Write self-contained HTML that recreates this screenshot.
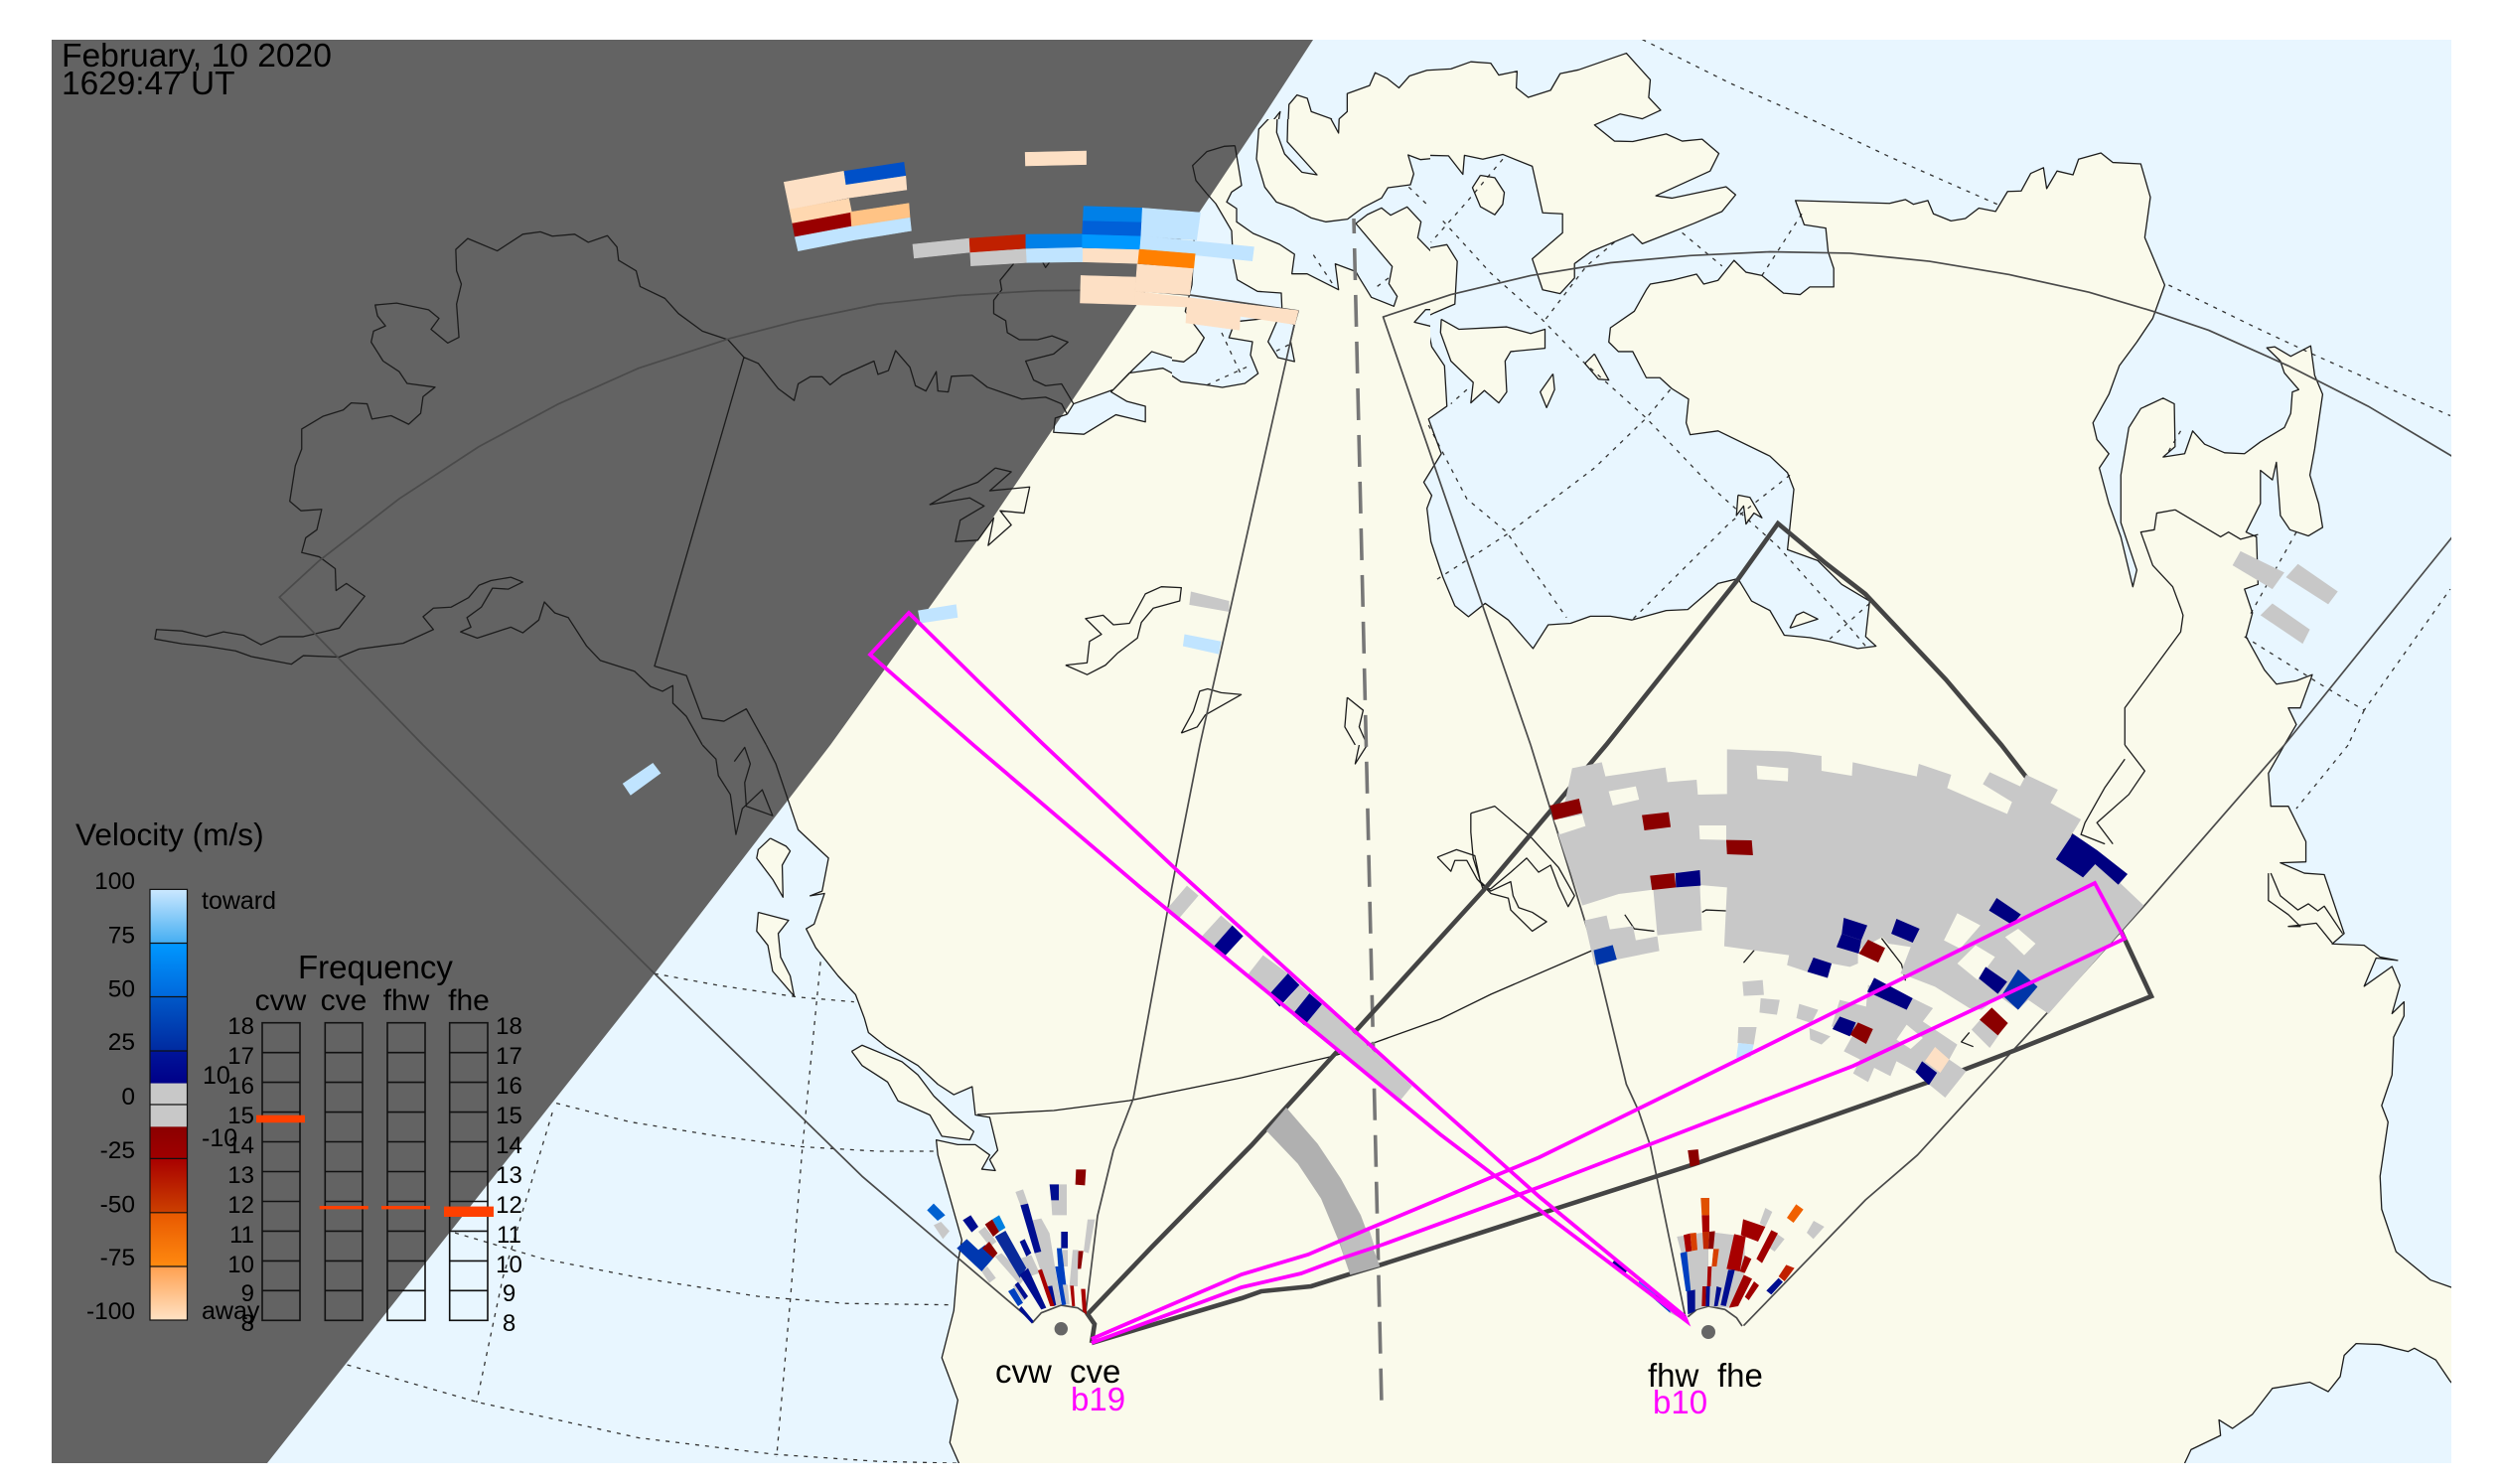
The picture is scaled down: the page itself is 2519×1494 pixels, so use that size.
<!DOCTYPE html>
<html><head><meta charset="utf-8"><title>Velocity map</title>
<style>
html,body{margin:0;padding:0;background:#fff}
svg{display:block}
path{vector-effect:non-scaling-stroke}
text{font-family:"Liberation Sans",sans-serif;fill:#000}
.d path{fill:none;stroke:#333;stroke-width:1.3;stroke-dasharray:4 6}
.f path{fill:none;stroke:#4a4a4a;stroke-width:1.7;stroke-linejoin:round}
.s use,.s path{fill:none;stroke:#1c1c1c;stroke-width:1.3;stroke-linejoin:round}
</style></head><body>
<svg width="2519" height="1494" viewBox="0 0 2519 1494" xmlns="http://www.w3.org/2000/svg">
<defs>
<clipPath id="c1"><path clip-rule="evenodd" d="M0 0H1260V750H0Z M1180 120H1440V420H1180Z"/></clipPath>
<clipPath id="c2"><path clip-rule="evenodd" d="M1260 0H2519V750H1260Z M1260 120H1440V420H1260Z"/></clipPath>
<clipPath id="c3"><rect x="0" y="750" width="1260" height="744"/></clipPath>
<clipPath id="c4"><rect x="1260" y="750" width="1259" height="744"/></clipPath>
<clipPath id="cz"><rect x="1180" y="120" width="260" height="300"/></clipPath>

<!-- zone 1 -->
<path id="a1" d="M1337,872 1345,850 1395,820 1420,777 1443,740 1483,761 1510,780 1490,805 1457,775 1415,785 1392,825 1412,845 1435,855 1435,888 1398,873 1358,914 1320,910 1322,880 1337,872"/>
<path id="a2" d="M932,752 912,715 880,697 850,660 833,628 802,603 797,570 775,548 773,520 761,496 737,510 720,493 692,497 677,488 655,493 623,528 586,502 571,525 572,570 578,598 572,640 575,710 561,722 540,693 550,670 537,652 497,638 470,642 473,665 483,686 468,697 465,720 480,760 500,782 510,807 545,815 530,835 527,870 512,893 490,875 466,882 460,850 440,848 430,863 405,876 378,903 378,945 370,980 363,1055 377,1075 403,1072 397,1115 383,1132 378,1163 400,1172 420,1197 421,1243 434,1228 457,1255 425,1322 380,1340 350,1340 327,1357 305,1337 280,1330 258,1340 228,1328 196,1325 194,1345 228,1355 258,1360 295,1370 315,1382 365,1398 380,1380 425,1383 450,1366 505,1354 543,1325 530,1298 543,1280 565,1278 587,1258 600,1232 615,1222 640,1215 655,1225 637,1240 617,1238 603,1278 585,1300 590,1320 577,1330 598,1343 640,1320 655,1332 675,1305 682,1267 695,1290 712,1300 735,1360 752,1390 795,1413 815,1445 830,1455 843,1443 843,1480 860,1508 880,1568
M932,752 820,1402 860,1422 880,1512 907,1518 935,1492 960,1568
M932,752 950,765 975,818 995,843 1000,808 1015,793 1030,793 1040,810 1055,790 1095,760 1100,788 1113,780 1122,738 1140,773 1147,812 1160,823 1173,782 1175,823 1188,825 1192,792 1218,790 1237,815 1280,840 1310,836 1330,850 1337,872
M1270,555 1253,590 1255,610 1245,632 1245,660 1260,675 1262,700 1277,715 1300,715 1318,707 1338,720 1320,745 1285,760 1295,800 1310,812 1330,808 1345,850
M1305,548 1310,563 1318,545
M1247,985 1267,993 1240,1033 1290,1025 1283,1080 1253,1075 1267,1105 1238,1148 1245,1090 1225,1137 1197,1140 1203,1095 1233,1065 1215,1048 1165,1062 1195,1033 1225,1015 1247,985
M1335,1400 1362,1420 1385,1400 1400,1375 1425,1343 1430,1310 1445,1280 1478,1265 1480,1237 1455,1235 1435,1250 1415,1312 1395,1315 1382,1295 1360,1302 1380,1335 1365,1350 1362,1395 1335,1400
M1480,1543 1500,1530 1510,1505 1555,1462 1530,1458 1513,1450 1503,1455 1495,1497 1480,1543"/>

<!-- zone 2 -->
<path id="b1" d="M5,300 36,235 30,290 50,340 65,365 82,367 45,295 47,220 57,200 70,207 75,235 100,250 110,280 110,250 120,235 120,197 148,180 155,153 170,165 185,185 198,160 220,148 250,145 275,130 300,133 310,158 333,150 332,185 347,205 375,190 387,155 410,147 470,112 500,168 498,205 513,232 490,250 462,240 430,263 455,297 478,298 520,282 540,297 565,293 586,323 575,360 507,412 527,417 595,393 607,410 590,445 555,470 525,490 490,513 478,493 425,530 405,555 405,585 387,618 365,610 352,545 390,490 390,450 365,448 352,350 315,325 290,335 267,327 265,367 247,328 198,326 203,390 172,395 155,420 122,460 95,467 65,455 30,425 10,370 5,300"/>
<path id="b2" d="M132,470 160,440 175,452 195,437 210,465 210,505 222,522 245,515 258,550 255,640 230,658 205,678 220,682 226,730 242,770 245,855 222,882 238,955 216,1015 226,1043 220,1070 225,1140 240,1215 255,1275 272,1298 293,1270 322,1305 353,1365 372,1315 400,1312 425,1297 450,1297 477,1305 520,1285 547,1283 585,1228 610,1218 627,1265 650,1285 668,1337 700,1342 725,1350 760,1365 783,1360 770,1340 775,1265 740,1230 710,1180 672,1157 680,1030 672,995 650,960 585,907 550,915 545,890 548,840 527,818 512,795 495,795 478,740 460,740 448,720 450,690 480,655 495,610 500,598 527,590 558,577 567,598 585,590 605,548 620,573 640,580 667,617 688,620 700,604 730,604 730,565 723,530 720,480 693,473 682,422 800,428 820,420 830,430 848,422 855,450 877,465 895,460 912,438 933,445 948,403 965,402 977,365 993,353 997,397 1010,360 1030,368 1037,335 1065,322 1080,342 1115,345 1127,415 1120,500 1145,600 1130,670 1110,720 1088,770 1075,830 1055,890 1060,925 1075,955 1063,985 1075,1060 1090,1130 1105,1235 1110,1200 1090,1100 1090,1000 1100,900 1115,860 1143,838 1157,850 1158,940 1143,962 1170,955 1180,907 1195,935 1220,953 1245,955 1265,930 1295,900 1303,870 1305,825 1313,820 1295,785 1290,760 1273,732 1283,730 1303,750 1328,728 1333,790 1343,830 1333,945 1327,1000 1338,1060 1343,1110 1325,1128 1302,1115 1290,1085 1285,973 1280,1010 1265,990 1265,1060 1247,1120 1260,1130 1262,1230 1245,1240 1255,1290 1247,1340 1270,1410 1285,1440 1310,1433 1330,1420 1328,1430 1315,1490 1300,1490 1310,1525 1295,1568 1295,1600 -10,1600 -10,470"/>
<path id="b3" d="M238,672 260,693 320,688 350,702 368,693 368,733 325,740 318,760 320,825 310,848 292,822 275,848 278,805 250,760 237,700 238,672
M287,369 305,374 317,405 315,430 305,452 287,435 277,395 287,369
M430,745 448,800 435,798 418,765 430,745
M378,787 380,820 370,858 362,825 378,787
M610,1042 625,1047 640,1090 630,1080 620,1103 617,1065 608,1085 610,1042
M675,1322 683,1295 692,1288 710,1303 675,1322"/>
<path id="b4" d="M1158,1073 1135,1080 1132,1115 1115,1120 1130,1190 1155,1235 1165,1280 1168,1295 1165,1330 1130,1410 1095,1490 1095,1568
M1158,1073 1215,1130 1225,1120 1240,1135 1262,1125
M120,1468 117,1530 130,1568 M120,1468 140,1495 135,1530 145,1568"/>

<!-- zone 10 -->
<path id="z1" d="M200,-10 300,-10 262,30 255,120 280,205 315,250 365,268 420,298 465,310 530,302 575,268 633,238 652,207 720,198 730,165 713,108 750,122 795,118 795,397 780,397 742,358 752,310 710,265 660,290 633,268 590,288 555,315 665,445 655,497 680,535 670,565 602,538 565,478 555,460 493,437 503,515 408,467 362,467 370,408 325,378 245,345 195,310 195,270 165,250 180,220 210,200 190,80"/>
<path id="z2" d="M105,225 132,255 180,337 184,420 197,485 258,520 330,525 332,570 316,612 290,672 320,720 370,732 358,670 370,620 300,600 205,610 183,630 172,660 243,672 237,712 260,768 220,798 152,810 105,803 27,793 0,775 -10,775 -10,728 0,728 35,733 72,705 97,660 68,622 40,580 60,500 70,285"/>
<path id="z3" d="M318,-10 316,40 340,105 392,160 438,168 348,68 350,-10 M475,-10 503,42 505,-10"/>
<path id="z4" d="M795,625 780,625 732,613 766,575 795,575"/>
<path id="z5" d="M190,80 157,82 105,98 62,140 72,185 105,225"/>

<!-- zone 3 -->
<path id="e1" d="M960,0 972,40 990,130 1000,180 1038,240 1030,310 1015,320 1033,315 1020,380 1010,390 1022,430 1050,490 1072,530 1083,580 1088,610 1110,640 1150,680 1175,720 1195,742 1218,725 1222,785 1240,790 1250,860 1240,880 1247,903 1230,900 1240,870 1222,848 1200,848 1173,838 1175,870 1185,930 1205,1050 1200,1100 1195,1200 1180,1300 1200,1390 1190,1480 1203,1530 1203,1560 200,1560"/>
<path id="e2" d="M965,198 985,215 990,225 980,255 981,323 968,285 948,240 950,222 965,198
M950,355 988,372 975,400 978,450 990,490 995,533 968,480 962,425 948,395 950,355
M1067,650 1080,637 1130,672 1150,700 1170,745 1195,785 1220,820 1215,838 1180,830 1165,785 1125,755 1112,715 1080,680 1067,650"/>
<path id="e3" d="M880,0 897,30 900,65 915,105 922,190 930,135 955,95 968,150 935,130 933,80 940,40 933,5 920,35"/>

<!-- zone 4 -->
<path id="g1" d="M1295,-10 1295,0 1275,60 1278,130 1300,130 1322,205 1322,248 1290,250 1320,272 1345,275 1370,400 1355,422 1395,425 1415,450 1437,457 1410,452 1395,512 1430,470 1440,510 1430,570 1445,545 1445,575 1432,620 1430,700 1417,765 1425,800 1415,915 1417,985 1435,1075 1478,1135 1503,1150 1530,1165 1530,-10"/>
<path id="g2" d="M1170,1524 1178,1495 1215,1465 1213,1432 1230,1450 1255,1420 1280,1365 1327,1352 1350,1372 1365,1340 1370,1295 1385,1270 1415,1272 1450,1287 1458,1280 1485,1305 1503,1350 1530,1400 1530,1540 1170,1540"/>
<path id="g3" d="M1278,272 1290,320 1312,350 1325,337 1337,352 1345,342 1368,400
M1275,272 1275,330 1300,360 1315,385 1300,385 1335,378 1355,420
M275,145 305,130 350,195 385,260 405,320 397,343 385,300 375,255 360,270 345,240 325,270 300,305 290,305 278,240 275,185 275,145
M233,238 257,222 280,235 287,290 300,310 325,290 328,320 335,345 352,355 370,375 352,395 325,350 322,325 300,315 283,285 270,245 255,245 250,268 233,238
M1095,0 1120,55 1100,105 1060,165 1080,210 M1095,30 1070,90 1045,165 1040,190 1070,210
M145,0 130,40 135,0
M468,360 480,390 505,395 M565,355 570,350 595,352 M617,462 632,432
M790,410 815,465 820,500 M905,640 890,630 900,610"/>

<linearGradient id="v1" x1="0" y1="0" x2="0" y2="1"><stop offset="0" stop-color="#cbe8ff"/><stop offset="1" stop-color="#45aef2"/></linearGradient>
<linearGradient id="v2" x1="0" y1="0" x2="0" y2="1"><stop offset="0" stop-color="#0098ff"/><stop offset="1" stop-color="#0068dc"/></linearGradient>
<linearGradient id="v3" x1="0" y1="0" x2="0" y2="1"><stop offset="0" stop-color="#0058c8"/><stop offset="1" stop-color="#002aa0"/></linearGradient>
<linearGradient id="v4" x1="0" y1="0" x2="0" y2="1"><stop offset="0" stop-color="#00159a"/><stop offset="1" stop-color="#000088"/></linearGradient>
<linearGradient id="v5" x1="0" y1="0" x2="0" y2="1"><stop offset="0" stop-color="#8b0000"/><stop offset="1" stop-color="#a00000"/></linearGradient>
<linearGradient id="v6" x1="0" y1="0" x2="0" y2="1"><stop offset="0" stop-color="#a80000"/><stop offset="1" stop-color="#cc4000"/></linearGradient>
<linearGradient id="v7" x1="0" y1="0" x2="0" y2="1"><stop offset="0" stop-color="#e85800"/><stop offset="1" stop-color="#ff8a10"/></linearGradient>
<linearGradient id="v8" x1="0" y1="0" x2="0" y2="1"><stop offset="0" stop-color="#ffa050"/><stop offset="1" stop-color="#ffe2c4"/></linearGradient>
</defs>

<!-- base fills -->
<rect x="52" y="40" width="2416" height="1433" fill="#fafaeb"/>
<g clip-path="url(#c1)"><g transform="scale(.8036,.4783)"><use href="#a1" fill="#e8f6ff"/></g></g>
<g clip-path="url(#c2)"><rect x="1260" y="0" width="1259" height="750" fill="#e8f6ff"/>
<g transform="translate(1260,0) scale(.803,.4783)"><use href="#b2" fill="#fafaeb"/><use href="#b1" fill="#fafaeb"/><use href="#b3" fill="#fafaeb"/></g></g>
<g clip-path="url(#cz)"><g transform="translate(1180,120) scale(.33333)"><use href="#z1" fill="#e8f6ff"/><use href="#z2" fill="#e8f6ff"/><use href="#z3" fill="#e8f6ff"/><use href="#z4" fill="#e8f6ff"/></g></g>
<g clip-path="url(#c3)"><g transform="translate(0,750) scale(.8036,.4745)"><use href="#e1" fill="#e8f6ff"/><use href="#e2" fill="#fafaeb"/></g></g>
<g clip-path="url(#c4)"><g transform="translate(1260,750) scale(.803,.4745)"><use href="#g1" fill="#e8f6ff"/><use href="#g2" fill="#e8f6ff"/></g></g>

<!-- night -->
<polygon points="52,40 1322,40 1270,120 1208,213 987,540 836,750 659,980 269,1473 52,1473" fill="#636363"/>

<!-- dotted graticule -->
<g class="d">
<g transform="translate(1260,0) scale(.803,.4783)">
<path d="M490,83 600,175 700,250 800,330 935,430"/><path d="M1150,600 1260,690 1330,745 1503,875"/>
<path d="M315,335 270,425 225,510"/><path d="M240,465 300,575 360,665 415,760 495,880 580,1030 660,1150 745,1310 770,1360"/>
<path d="M455,510 420,560 365,680"/><path d="M540,490 590,560"/><path d="M690,450 640,580"/>
<path d="M525,820 495,880 430,985 320,1125 232,1220"/><path d="M675,1000 600,1100 477,1305"/>
<path d="M222,895 270,1050 320,1120 395,1300"/><path d="M270,820 250,850"/><path d="M775,1270 725,1345"/>
<path d="M1165,907 1148,955"/><path d="M1310,1120 1250,1300"/><path d="M1245,1340 1340,1440 1395,1495 1503,1240"/><path d="M1395,1495 1375,1568"/>
</g>
<g transform="translate(1180,120) scale(.33333)">
<path d="M427,410 490,505"/><path d="M715,205 775,262"/><path d="M620,505 660,475"/><path d="M150,645 210,775"/><path d="M105,803 240,742"/><path d="M315,700 365,675"/>
</g>
<g transform="translate(0,750) scale(.8036,.4745)">
<path d="M820,485 900,510 1000,535 1070,545"/><path d="M697,760 790,800 900,830 1000,852 1100,862 1170,862"/>
<path d="M570,1035 680,1090 800,1130 950,1170 1060,1185 1195,1188"/><path d="M435,1315 600,1395 800,1470 970,1505 1100,1520 1200,1524"/>
<path d="M1028,460 1005,860 990,1180 973,1510"/><path d="M692,780 660,960 630,1130 597,1395"/>
</g>
<g transform="translate(1260,750) scale(.803,.4745)"><path d="M1375,0 1310,135"/></g>
</g>

<!-- coast strokes -->
<g class="s">
<g clip-path="url(#c1)"><g transform="scale(.8036,.4783)"><use href="#a1"/><use href="#a2"/></g></g>
<g clip-path="url(#c2)"><g transform="translate(1260,0) scale(.803,.4783)"><use href="#b1"/><use href="#b2"/><use href="#b3"/><use href="#b4"/></g></g>
<g clip-path="url(#cz)"><g transform="translate(1180,120) scale(.33333)"><use href="#z1"/><use href="#z2"/><use href="#z3"/><use href="#z4"/><use href="#z5"/></g></g>
<g clip-path="url(#c3)"><g transform="translate(0,750) scale(.8036,.4745)"><use href="#e1"/><use href="#e2"/><use href="#e3"/></g></g>
<g clip-path="url(#c4)"><g transform="translate(1260,750) scale(.803,.4745)"><use href="#g1"/><use href="#g2"/><use href="#g3"/></g></g>
<path d="M984,1122 1061,1118 1137,1108 1250,1085 1343,1063 1383,1050 1450,1026 1501,1001 1605,956"/>
</g>

<!-- center dashed -->
<path d="M1363,220 L1391,1414" fill="none" stroke="#777" stroke-width="3.6" stroke-dasharray="32 15" stroke-dashoffset="17"/>

<!-- FOV outlines -->
<g class="f">
<g transform="scale(.8036,.4783)"><path d="M530,1568 350,1257 400,1180 500,1050 600,940 700,850 800,775 915,712 1000,675 1100,640 1200,622 1300,612 1420,610"/></g>
<path d="M1141,292 1198,297 1307,313 1303,327 1282,420 1208,750 1180,892 1141,1106 1121,1158 1105,1224 1093,1322"/>
<g transform="translate(0,750) scale(.8036,.4745)"><path d="M530,0 820,485 1080,915 1295,1225"/></g>
<g transform="translate(1260,0) scale(.803,.4783)">
<path d="M350,1568 165,667 250,620 350,580 450,553 550,538 650,530 750,533 850,550 950,578 1050,615 1130,655 1200,695 1300,770 1400,855 1520,975"/>
<path d="M1295,1568 1520,1100"/></g>
<g transform="translate(1260,750) scale(.803,.4745)">
<path d="M350,0 430,440 470,720 485,775 500,850 545,1222"/>
<path d="M1295,0 1120,340 970,620 835,870 770,965 617,1232"/></g>
<g transform="translate(1640,1160) scale(.33333)"><path d="M178,497 205,475 240,465 290,475 325,500 342,525"/></g>
<g transform="translate(920,1160) scale(.33333)"><path d="M358,515 385,485 445,462 495,470 525,490"/></g>
</g>

<!-- b19 dark outline -->
<path d="M1099,1352 1102,1333 1095,1323 1160,1255 1260,1153 1344,1061 1493,897 1617,750 1750,583 1790,527 1838,567 1878,598 1959,684 2015,750 2039,781 2100,860 2138,943 2166,1003 2027,1058 1977,1077 1706,1172 1388,1274 1358,1283 1320,1295 1270,1300 1250,1307 1099,1352" fill="none" stroke="#444" stroke-width="4.6"/>

<circle cx="1068.3" cy="1337.7" r="6.7" fill="#666"/>
<circle cx="1720" cy="1341" r="7" fill="#666"/>

<!-- gray arc -->
<g transform="translate(1250,1100) scale(.33333)">
<polygon fill="#b0b0b0" points="135,45 230,155 300,260 360,370 418,525 328,550 290,440 240,320 170,215 75,115"/>
<polygon fill="#bfbfbf" points="297,447 385,412 403,470 312,502"/>
</g>

<!-- lone cells -->
<g transform="scale(.8036,.4783)">
<polygon fill="#c0e4ff" points="1150,1285 1198,1272 1200,1300 1153,1312"/>
<polygon fill="#c8c8c8" points="1492,1245 1540,1265 1540,1288 1490,1273"/>
<polygon fill="#c0e4ff" points="1484,1335 1530,1350 1527,1377 1482,1360"/>
</g>
<g transform="translate(0,750) scale(.8036,.4745)"><polygon fill="#c0e4ff" points="780,82 818,38 828,60 790,107"/></g>
<g transform="translate(1260,0) scale(.803,.4783)" fill="#c8c8c8">
<polygon points="1240,1160 1295,1205 1280,1240 1230,1190"/>
<polygon points="1312,1187 1362,1245 1350,1272 1297,1215"/>
<polygon points="1280,1270 1327,1325 1318,1355 1265,1295"/>
</g>
<g transform="translate(1260,750) scale(.803,.4745)"><polygon fill="#8b0000" points="547,860 560,858 562,890 550,895"/></g>

<!-- top cells -->
<g transform="translate(760,140) scale(.35714,.33333)" stroke-width="1.6">
<g fill="#fde0c5" stroke="#fde0c5">
<polygon points="82,130 250,97 257,137 425,110 428,153 262,178 98,213"/><polygon points="762,40 934,36 934,77 763,81"/>
<polygon points="923,330 1084,333 1080,376 921,371"/><polygon points="1078,378 1235,390 1226,470 1072,460"/>
<polygon points="919,412 1074,417 1070,500 917,495"/><polygon points="1072,460 1532,518 1522,560 1368,535 1366,577 1215,555 1218,507 1070,500"/>
</g>
<polygon fill="#ffd8b0" stroke="#ffd8b0" points="98,213 265,180 273,222 106,255"/>
<polygon fill="#990000" stroke="#990000" points="106,255 273,222 277,263 113,296"/>
<polygon fill="#c0e4ff" stroke="#c0e4ff" points="113,296 277,263 437,237 441,277 280,305 122,338"/>
<polygon fill="#0050c8" stroke="#0050c8" points="252,97 420,70 425,110 257,137"/>
<polygon fill="#ffc385" stroke="#ffc385" points="270,220 434,194 437,236 273,263"/>
<g fill="#c8c8c8" stroke="#c8c8c8"><polygon points="445,318 605,300 607,342 449,360"/><polygon points="607,342 765,332 767,373 609,383"/></g>
<polygon fill="#c02000" stroke="#c02000" points="605,300 764,288 764,330 607,342"/>
<polygon fill="#0080e8" stroke="#0080e8" points="764,288 923,287 923,328 764,330"/>
<g fill="#c0e4ff" stroke="#c0e4ff"><polygon points="765,332 923,328 923,371 767,373"/><polygon points="1092,208 1256,222 1245,305 1084,293"/><polygon points="1087,292 1407,326 1402,368 1084,333"/></g>
<polygon fill="#0098ff" stroke="#0098ff" points="923,287 1087,292 1084,333 923,328"/>
<polygon fill="#0060d8" stroke="#0060d8" points="925,246 1089,249 1087,292 923,287"/>
<polygon fill="#0080e8" stroke="#0080e8" points="927,203 1091,208 1089,250 925,246"/>
<polygon fill="#ff8000" stroke="#ff8000" points="1084,333 1241,347 1237,390 1080,376"/>
</g>

<!-- main fan -->
<g transform="translate(1540,730) scale(.40816,.33333)">
<g fill="#c8c8c8">
<polygon points="105,130 178,112 187,155 335,128 340,172 412,165 415,210 487,208 487,73 640,80 720,93 720,138 795,153 797,112 955,155 960,117 1040,150 1030,190 1120,238 1178,268 1190,232 1118,178 1135,142 1210,185 1225,150 1303,195 1285,235 1360,285 1335,335 1515,545 1280,872 1230,830 1205,860 1160,820 1115,860 1085,855 1000,790 915,750 940,670 885,660 870,640 810,680 810,720 790,730 745,720 735,765 685,745 635,725 640,695 480,668 487,490 420,483 425,620 315,635 305,497 220,510 130,545 100,440 70,330"/>
<polygon points="135,590 190,575 198,617 255,607 262,650 315,638 320,682 215,708 160,725"/>
<polygon points="525,775 575,770 578,815 528,818"/><polygon points="570,825 617,830 610,875 567,868"/>
<polygon points="665,842 712,860 695,900 658,885"/><polygon points="515,912 560,912 553,965 513,960"/>
<polygon points="835,785 945,825 995,855 970,895 1055,965 1035,1010 1077,1045 1025,1125 985,1085 950,1045 905,1015 890,1060 850,1035 835,1078 798,1052 815,1010 775,985 800,930 745,910 765,830 830,850"/>
<polygon points="690,915 742,940 720,965 692,950"/>
<polygon points="1090,920 1115,885 1175,905 1135,975"/>
</g>
<g fill="#fafaeb">
<polygon points="195,200 262,185 270,225 205,243"/><polygon points="560,122 638,130 637,170 562,163"/>
<polygon points="418,303 485,303 485,347 420,345"/><polygon points="60,287 130,270 138,305 75,330"/>
<polygon points="1055,568 1112,605 1062,675 1022,650"/><polygon points="1173,640 1205,615 1248,660 1220,695"/>
<polygon points="1055,720 1100,665 1148,700 1105,770"/><polygon points="905,950 930,905 970,945 940,978"/>
</g>
<g fill="#8b0000">
<polygon points="50,243 122,222 130,265 60,287"/><polygon points="277,272 343,263 348,308 283,318"/>
<polygon points="485,347 548,348 551,393 487,390"/><polygon points="297,455 357,447 361,490 302,498"/>
<polygon points="812,690 835,648 877,673 860,717"/><polygon points="790,935 810,898 847,918 830,963"/>
<polygon points="1110,890 1140,853 1180,900 1155,937"/>
</g>
<g fill="#000080">
<polygon points="360,447 420,438 422,485 361,490"/><polygon points="775,582 833,605 818,650 770,630"/>
<polygon points="770,630 818,650 812,690 757,670"/><polygon points="905,585 962,615 945,657 892,630"/>
<polygon points="700,702 745,720 735,763 685,745"/><polygon points="1152,522 1212,572 1190,603 1133,560"/>
<polygon points="850,763 945,825 930,860 833,805"/><polygon points="1340,328 1400,378 1475,450 1452,482 1395,420 1365,460 1298,405"/>
<polygon points="1125,730 1178,775 1155,812 1108,765"/><polygon points="765,880 805,898 790,940 747,918"/>
<polygon points="968,1015 1005,1050 985,1087 952,1048"/>
</g>
<g fill="#0035a8"><polygon points="1205,738 1253,790 1205,860 1165,815"/><polygon points="158,680 205,664 215,708 165,725"/></g>
<polygon fill="#fde0c5" points="1000,972 1035,1010 1013,1050 975,1015"/>
<polygon fill="#c0e4ff" points="515,960 553,965 545,1003 510,1005"/>
</g>

<!-- b10 beam cells -->
<g transform="translate(1150,880) scale(.33333)">
<g fill="#c8c8c8">
<polygon points="135,35 170,65 110,135 75,105"/><polygon points="238,125 272,155 213,222 178,190"/>
<polygon points="365,245 440,300 382,365 318,305"/><polygon points="475,335 505,360 453,425 420,400"/>
<polygon points="543,393 815,640 778,685 490,457"/>
</g>
<g fill="#00008b"><polygon points="272,155 305,187 247,250 213,222"/><polygon points="440,300 475,335 415,400 382,365"/><polygon points="505,360 543,393 490,457 453,425"/></g>
</g>
<g transform="translate(1260,750) scale(.803,.4745)"><polygon fill="#00008b" points="455,1093 472,1113 468,1122 451,1102"/></g>

<!-- cvw/cve fan -->
<g transform="translate(920,1160) scale(.33333)">
<g fill="#c8c8c8">
<polygon points="60,220 82,210 108,238 88,262"/><polygon points="205,360 222,345 248,380 228,395"/>
<polygon points="245,315 265,305 340,375 320,400"/><polygon points="307,120 330,112 345,155 322,160"/>
<polygon points="360,205 385,200 410,245 445,460 420,465 365,305"/><polygon points="325,320 355,310 380,365 350,375"/>
<polygon points="450,295 465,295 465,345 450,345"/><polygon points="448,400 465,400 470,460 455,460"/>
<polygon points="480,295 497,295 495,405 470,405"/><polygon points="525,203 547,203 528,305 513,300"/>
<polygon points="438,97 462,97 462,190 418,190 415,145 438,145"/><polygon points="195,240 215,225 250,270 230,285"/>
<polygon points="300,405 315,395 345,435 330,450"/>
</g>
<polygon fill="#0060d0" points="60,155 95,190 72,207 40,175"/>
<polygon fill="#000e90" points="148,205 172,190 195,225 175,242"/>
<polygon fill="#0080e0" points="237,203 258,190 277,228 258,240"/>
<polygon fill="#0038b0" points="130,290 160,262 195,295 215,280 240,320 205,360"/>
<g fill="#8b0000"><polygon points="215,218 237,203 258,240 240,255"/><polygon points="207,290 228,270 253,305 240,320"/><polygon points="490,52 520,52 517,100 488,98"/><polygon points="497,298 512,298 505,352 495,352"/></g>
<polygon fill="#0a2a9a" points="245,255 277,237 340,350 320,380"/>
<g fill="#000e90">
<polygon points="320,370 345,350 400,470 385,475"/><polygon points="322,160 345,155 385,300 365,305"/>
<polygon points="320,270 335,262 355,305 340,315"/><polygon points="405,405 418,403 430,462 420,465"/>
<polygon points="445,240 465,240 465,290 445,290"/><polygon points="410,97 438,97 438,145 415,145"/>
<polygon points="305,400 315,392 345,435 335,445"/><polygon points="317,475 325,465 362,510 357,518"/>
</g>
<g fill="#0040c0"><polygon points="432,290 447,290 460,400 440,400"/><polygon points="427,345 440,345 460,460 447,462"/><polygon points="285,420 303,410 330,455 315,465"/></g>
<g fill="#a80000"><polygon points="375,357 387,353 425,465 412,465"/><polygon points="472,403 483,403 487,465 478,465"/><polygon points="505,413 518,413 522,490 510,480"/></g>
</g>

<!-- fhw/fhe fan -->
<g transform="translate(1640,1160) scale(.33333)">
<polygon fill="#c8c8c8" points="145,255 240,240 320,250 350,260 350,360 320,440 300,470 235,465 185,480 160,310"/>
<polygon fill="#e05000" points="217,138 243,138 243,190 220,190"/>
<polygon fill="#a80000" points="220,190 243,190 243,240 222,240"/>
<polygon fill="#c02800" points="222,240 243,240 240,292 225,292"/>
<polygon fill="#8b0000" points="243,240 260,238 255,292 240,292"/>
<polygon fill="#a80000" points="165,250 185,245 190,298 172,302"/>
<polygon fill="#d84000" points="185,245 203,243 207,295 190,298"/>
<polygon fill="#0040c0" points="155,305 175,300 187,420 172,420"/>
<polygon fill="#000e90" points="175,420 200,415 200,480 178,490"/>
<polygon fill="#d84000" points="255,292 272,292 265,345 250,345"/>
<polygon fill="#fafaeb" points="240,292 255,292 250,345 240,345"/>
<polygon fill="#a80000" points="238,345 250,345 247,405 236,405"/>
<polygon fill="#a80000" points="318,247 353,255 335,360 295,352"/>
<polygon fill="#000e90" points="300,355 320,355 293,465 277,462"/>
<g fill="#c8c8c8"><polygon points="395,215 412,168 433,180 412,225"/><polygon points="445,245 470,262 440,300 425,290"/><polygon points="558,207 590,225 557,262 537,243"/></g>
<g fill="#a00000"><polygon points="345,202 412,225 390,270 338,250"/><polygon points="430,235 450,245 402,335 385,322"/><polygon points="350,312 370,322 350,365 335,360"/><polygon points="347,370 372,382 330,465 302,470"/><polygon points="378,390 393,402 362,447 350,437"/><polygon points="222,405 233,405 232,465 220,465"/></g>
<g fill="#000e90"><polygon points="233,405 245,405 243,465 232,465"/><polygon points="265,405 280,410 268,465 257,465"/><polygon points="452,380 465,392 430,430 415,418"/></g>
<polygon fill="#f06000" points="505,157 527,173 497,213 477,198"/>
<polygon fill="#c02000" points="475,340 500,350 470,390 452,375"/>
<polygon fill="#fde0c5" points="0,352 30,378 30,404 0,378"/>
<polygon fill="#0098ff" points="30,378 80,421 80,447 30,404"/>
<polygon fill="#0050c8" points="80,421 125,460 125,486 80,447"/>
<polygon fill="#c8c8c8" points="125,460 175,503 172,510 125,486"/>
</g>

<!-- magenta beams -->
<g fill="none" stroke="#ff00ff" stroke-width="3.8" stroke-linejoin="miter">
<path d="M1099,1348 1250,1283 1317,1263 1378,1237 1550,1165 1758,1063 2109,889 2139,945 1866,1073 1550,1195 1392,1253 1350,1267 1310,1282 1250,1296 1099,1352"/>
<path d="M1696,1325 1550,1205 1450,1116 1187,878 1120,815 1049,748 985,686 915,617 876,659 980,750 1150,895 1450,1142 1550,1218 1698,1330 1696,1325"/>
</g>

<!-- page mask -->
<g fill="#fff"><rect x="0" y="0" width="2519" height="40"/><rect x="0" y="0" width="52" height="1494"/><rect x="0" y="1473" width="2519" height="21"/><rect x="2468" y="0" width="51" height="1494"/></g>

<!-- header -->
<text x="62" y="67" font-size="33.6">February, 10 2020</text>
<text x="62" y="95" font-size="33.4">1629:47 UT</text>

<!-- colour bar -->
<rect x="151" y="895.4" width="37.5" height="54.1" fill="url(#v1)"/>
<rect x="151" y="949.5" width="37.5" height="54" fill="url(#v2)"/>
<rect x="151" y="1003.5" width="37.5" height="54.5" fill="url(#v3)"/>
<rect x="151" y="1058" width="37.5" height="32.6" fill="url(#v4)"/>
<rect x="151" y="1090.6" width="37.5" height="43.8" fill="#c8c8c8"/>
<rect x="151" y="1134.4" width="37.5" height="32" fill="url(#v5)"/>
<rect x="151" y="1166.4" width="37.5" height="54.4" fill="url(#v6)"/>
<rect x="151" y="1220.8" width="37.5" height="54.2" fill="url(#v7)"/>
<rect x="151" y="1275" width="37.5" height="54" fill="url(#v8)"/>
<g stroke="#111" stroke-width="1.2"><path d="M151,949.5H188.5M151,1003.5H188.5M151,1058H188.5M151,1112H188.5M151,1166.4H188.5M151,1220.8H188.5M151,1275H188.5" fill="none"/></g>
<rect x="151" y="895.4" width="37.5" height="433.6" fill="none" stroke="#111" stroke-width="1.2"/>
<g font-size="24.5" text-anchor="end">
<text x="136" y="895">100</text><text x="136" y="949.5">75</text><text x="136" y="1003.5">50</text><text x="136" y="1057">25</text><text x="136" y="1112">0</text><text x="136" y="1166">-25</text><text x="136" y="1220.5">-50</text><text x="136" y="1274">-75</text><text x="136" y="1328">-100</text>
</g>
<g font-size="25"><text x="203" y="915">toward</text><text x="203" y="1328">away</text><text x="204" y="1091">10</text><text x="203" y="1154">-10</text></g>
<text x="76" y="851" font-size="31.6">Velocity (m/s)</text>
<text x="300" y="985" font-size="33">Frequency</text>
<g font-size="30" text-anchor="middle"><text x="282.5" y="1017">cvw</text><text x="346" y="1017">cve</text><text x="409" y="1017">fhw</text><text x="472" y="1017">fhe</text></g>

<!-- frequency bars -->
<g fill="none" stroke="#111" stroke-width="1.6">
<rect x="264" y="1029.7" width="38" height="299.6"/><rect x="327.3" y="1029.7" width="37.7" height="299.6"/><rect x="390" y="1029.7" width="38" height="299.6"/><rect x="452.7" y="1029.7" width="38.3" height="299.6"/>
<path d="M264,1059.7H302M264,1089.6H302M264,1119.6H302M264,1149.5H302M264,1179.5H302M264,1209.5H302M264,1239.4H302M264,1269.4H302M264,1299.3H302"/>
<path d="M327.3,1059.7H365M327.3,1089.6H365M327.3,1119.6H365M327.3,1149.5H365M327.3,1179.5H365M327.3,1209.5H365M327.3,1239.4H365M327.3,1269.4H365M327.3,1299.3H365"/>
<path d="M390,1059.7H428M390,1089.6H428M390,1119.6H428M390,1149.5H428M390,1179.5H428M390,1209.5H428M390,1239.4H428M390,1269.4H428M390,1299.3H428"/>
<path d="M452.7,1059.7H491M452.7,1089.6H491M452.7,1119.6H491M452.7,1149.5H491M452.7,1179.5H491M452.7,1209.5H491M452.7,1239.4H491M452.7,1269.4H491M452.7,1299.3H491"/>
</g>
<g fill="#ff4000"><rect x="258" y="1122.7" width="49" height="7.5"/><rect x="321.7" y="1214" width="49" height="3.4"/><rect x="384" y="1214" width="49" height="3.4"/><rect x="447" y="1214.6" width="50" height="10.4"/></g>
<g font-size="24" text-anchor="end">
<text x="256" y="1041">18</text><text x="256" y="1071">17</text><text x="256" y="1101">16</text><text x="256" y="1131">15</text><text x="256" y="1161">14</text><text x="256" y="1191">13</text><text x="256" y="1221">12</text><text x="256" y="1251">11</text><text x="256" y="1281">10</text><text x="256" y="1310">9</text><text x="256" y="1340">8</text>
</g>
<g font-size="24" text-anchor="middle">
<text x="512.5" y="1041">18</text><text x="512.5" y="1071">17</text><text x="512.5" y="1101">16</text><text x="512.5" y="1131">15</text><text x="512.5" y="1161">14</text><text x="512.5" y="1191">13</text><text x="512.5" y="1221">12</text><text x="512.5" y="1251">11</text><text x="512.5" y="1281">10</text><text x="512.5" y="1310">9</text><text x="512.5" y="1340">8</text>
</g>

<!-- radar labels -->
<g font-size="33">
<text x="1002" y="1392">cvw</text><text x="1077" y="1392">cve</text>
<text x="1659" y="1396">fhw</text><text x="1729" y="1396">fhe</text>
<text x="1078" y="1420" style="fill:#ff00ff">b19</text><text x="1664" y="1423" style="fill:#ff00ff">b10</text>
</g>
</svg>
</body></html>
